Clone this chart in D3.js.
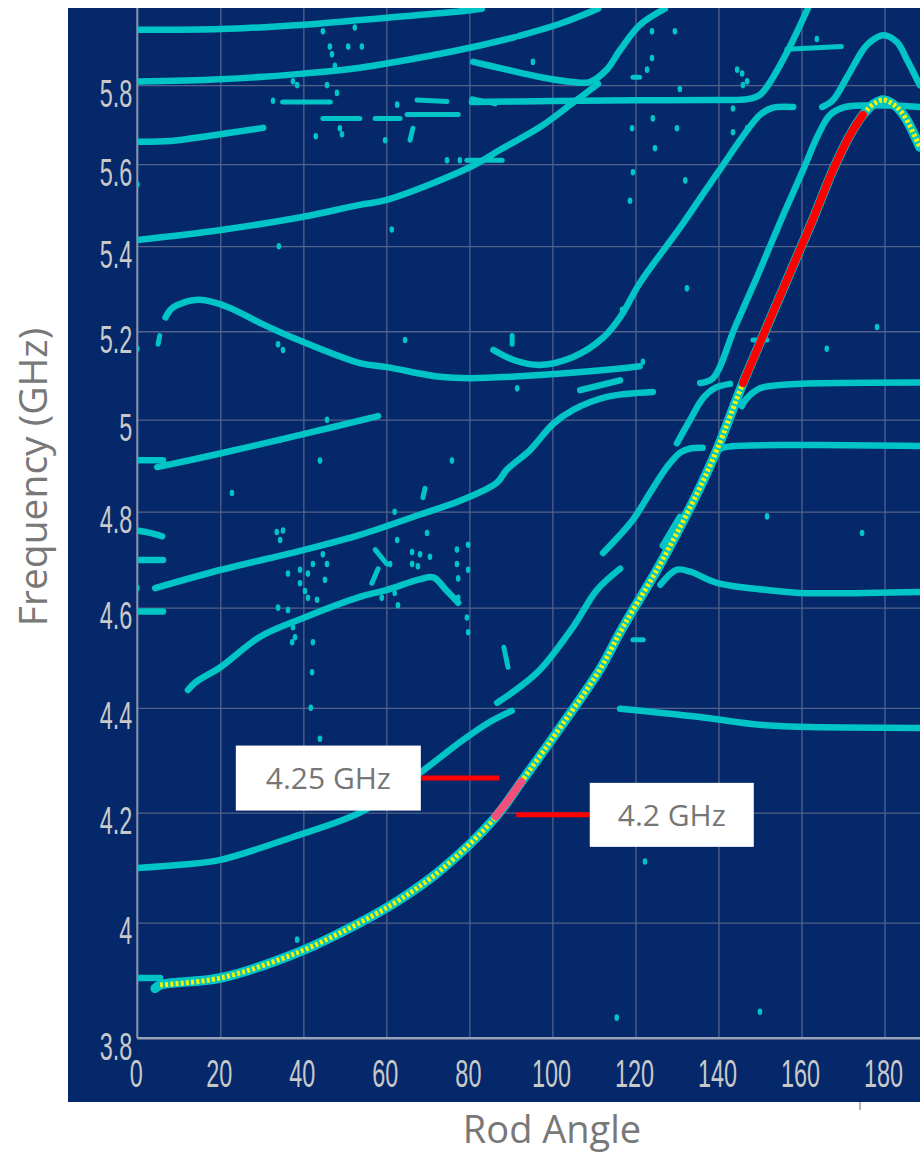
<!DOCTYPE html>
<html>
<head>
<meta charset="utf-8">
<script src="https://cdn.jsdelivr.net/npm/d3@7"></script>
<style>
  body { margin: 0; background: #fff; }
  svg { display: block; }
</style>
</head>
<body>
<div id="chart"></div>
<script>
// ---- data: rod angle (deg) vs frequency (GHz) ----
var xTicks = [0, 20, 40, 60, 80, 100, 120, 140, 160, 180];
var yTicks = [3.8, 4, 4.2, 4.4, 4.6, 4.8, 5, 5.2, 5.4, 5.6, 5.8];

// tracked mode (yellow markers)
var trackedMode = [[4.3,3.885],[5.5,3.891],[20,3.903],[38.5,3.947],[53.6,4.0],[63,4.04],[73.2,4.095],[86.1,4.19],[92.7,4.26],[99.5,4.335],[111.4,4.475],[116.3,4.55],[119.4,4.595],[124.8,4.672],[130,4.755],[134.9,4.84],[139.6,4.933],[145.9,5.082],[151.2,5.2],[156.5,5.32],[162.8,5.466],[167.6,5.586],[171.7,5.673],[174.8,5.724],[177.2,5.75],[179.6,5.762],[182.5,5.748],[185,5.717],[188.5,5.643]];
var redSpan = [[145.9,5.082],[151.2,5.2],[156.5,5.32],[162.8,5.466],[167.6,5.586],[171.7,5.673],[174.8,5.724]];
var pinkSpan = [[86.3,4.193],[89.5,4.225],[92.5,4.258]];

// other modes (cyan)
var topBand = [[0,5.944],[20.2,5.946],[39.2,5.957],[53.6,5.97],[76,5.991],[83,6.0]];
var band58a = [[0,5.809],[20,5.815],[39.2,5.829],[53.6,5.845],[70.5,5.876],[80.9,5.899],[91,5.925]];
var band58b = [[92,5.928],[101.8,5.96],[111,6.0]];
var band567 = [[0,5.656],[8,5.658],[18,5.672],[30.3,5.691]];
var band54 = [[0,5.415],[20.2,5.439],[40,5.471],[53.6,5.5],[60.1,5.512],[80.2,5.593],[87.4,5.636],[97,5.693],[105,5.755],[111,5.803]];
var dip577 = [[80.9,5.86],[89,5.84],[97,5.821],[105,5.808],[109,5.808],[113.1,5.84],[116.3,5.891],[121.1,5.957],[127.1,6.0]];
var shelf576 = [[80.6,5.757],[100,5.759],[120,5.761],[140,5.762],[147,5.764],[150,5.775],[153.2,5.821],[157.2,5.9],[161.5,6.0]];
var arc52 = [[6.8,5.232],[8.2,5.252],[11,5.266],[15,5.273],[21.6,5.257],[29.6,5.219],[37.5,5.185],[53.6,5.127],[60.1,5.118],[72.9,5.096],[80.2,5.093],[97,5.1],[116.3,5.115],[121,5.12]];
var arc51 = [[85.8,5.157],[91,5.133],[97,5.123],[105,5.141],[112.2,5.185],[116.5,5.235],[121.1,5.313],[130.7,5.444],[140.1,5.583],[150,5.724],[153,5.742],[158,5.744]];
var stub508 = [[106.7,5.066],[116.3,5.088]];
var line50 = [[4.8,4.896],[20.2,4.926],[40,4.968],[58,5.008]];
var line47 = [[4.3,4.64],[20.2,4.678],[40,4.719],[53.6,4.751],[68.1,4.794],[78.2,4.825],[86.6,4.862],[89,4.89],[94.6,4.933],[100.2,4.991],[105,5.022],[113.1,5.051],[124.2,5.062]];
var line465 = [[12.2,4.435],[14,4.45],[20.2,4.481],[29.6,4.541],[40,4.579],[53.6,4.622],[60,4.636],[68,4.658],[71.3,4.662],[74.5,4.635],[77.3,4.61]];
var rise44 = [[0,4.098],[10.3,4.104],[20,4.113],[37.5,4.155],[53.6,4.2],[65.7,4.261],[78.5,4.338],[85,4.373],[90.2,4.394]];
var rise46 = [[86.7,4.41],[92,4.44],[97,4.475],[105,4.561],[110.7,4.636],[116.3,4.68]];
var rise48 = [[112.2,4.713],[119.4,4.783],[123.5,4.84],[127.6,4.896],[130.7,4.927],[133,4.936],[136.2,4.938]];
var short47 = [[126.6,4.728],[130.7,4.789]];
var flat494 = [[139.8,4.933],[142,4.94],[160,4.944],[188.5,4.942]];
var flat508 = [[145.6,5.03],[146.7,5.046],[150,5.07],[155.6,5.078],[188.5,5.083]];
var rise50 = [[130,4.948],[133.2,5.0],[136.3,5.048],[139.2,5.071],[142.8,5.08]];
var steep55 = [[135.6,5.082],[138.7,5.093],[144,5.21],[149.3,5.327],[155.5,5.473],[160.4,5.586],[164,5.673],[166.9,5.724],[170.5,5.744],[188.5,5.744]];
var hump593 = [[165,5.744],[167.6,5.762],[171,5.821],[174.8,5.891],[176.5,5.912],[179.6,5.93],[183,5.912],[185.4,5.866],[188.5,5.8]];
var flat466 = [[126,4.647],[130,4.678],[133.2,4.674],[139.6,4.651],[151.7,4.636],[159.6,4.63],[188.5,4.632]];
var flat44 = [[116.3,4.398],[135.5,4.382],[150,4.367],[159.6,4.363],[188.5,4.361]];
var edge39 = [[0,3.903],[5.5,3.903]];
var edge459 = [[0,4.592],[6.2,4.592]];
var edge47 = [[0,4.698],[6.2,4.698]];
var edge476 = [[0,4.76],[3,4.755],[6,4.748]];
var edge491 = [[0,4.911],[6.2,4.911]];

var fragments = [
  [[35,5.757],[46.5,5.757]], [[44.7,5.715],[53.6,5.715]], [[57.3,5.715],[63.3,5.715]],
  [[65,5.725],[77.3,5.725]], [[67.4,5.762],[74.6,5.758]], [[80.6,5.765],[86.2,5.752]],
  [[79.4,5.61],[87.9,5.61]], [[119.4,5.82],[121,5.82]], [[148.3,5.18],[151.7,5.18]],
  [[156.5,5.893],[169.6,5.9]], [[5,5.17],[5.4,5.19]], [[65.7,5.66],[66.4,5.69]],
  [[90.3,5.17],[90.3,5.19]], [[69.3,4.85],[68.8,4.83]], [[57.3,4.72],[60.1,4.69]],
  [[58,4.68],[56.5,4.65]], [[88.3,4.52],[89.3,4.48]], [[119.4,4.535],[121.9,4.535]]
];

var dots = [
  [44.7,5.94],[46.4,5.9],[46.9,5.88],[50.8,5.9],[52.4,5.95],[54.1,5.9],[32.7,5.76],[37.5,5.81],
  [38.5,5.8],[45.7,5.8],[47.6,5.85],[48.1,5.78],[48.8,5.69],[49.3,5.675],[43,5.67],[0,5.55],
  [34.1,5.4],[0,5.16],[33.9,5.17],[35.1,5.157],[62.6,5.75],[59.7,5.66],[95.3,5.86],[74.6,5.61],
  [77.7,5.61],[61.3,5.44],[124,5.94],[129.5,5.94],[124,5.87],[122.8,5.84],[130.7,5.79],[124.2,5.715],
  [119.2,5.69],[130,5.69],[124.7,5.64],[119.4,5.58],[132,5.56],[118.7,5.51],[132.4,5.3],[116.8,5.25],
  [121.8,5.13],[144.5,5.84],[145.7,5.83],[146.9,5.81],[145.9,5.8],[143.5,5.74],[143.5,5.68],[146.9,5.69],
  [163.7,5.92],[178.2,5.21],[166.1,5.16],[64.5,5.18],[91.5,5.07],[75.8,4.91],[22.8,4.84],[45.7,5.0],
  [44,4.91],[34.4,4.955],[0,4.64],[33.6,4.757],[35.1,4.76],[34.4,4.74],[36.3,4.67],[39.2,4.678],
  [41.1,4.67],[42.3,4.69],[44.7,4.71],[45.7,4.69],[45.2,4.657],[39.2,4.65],[40.4,4.634],[41.1,4.62],
  [43.3,4.616],[33.9,4.6],[36.3,4.595],[37.5,4.56],[38,4.54],[37.3,4.53],[42.3,4.53],[42.1,4.47],
  [41.8,4.4],[44,4.34],[62,4.8],[69.8,4.755],[62.6,4.74],[66.2,4.715],[68.1,4.71],[70.5,4.705],
  [66.2,4.69],[67.6,4.685],[60.9,4.69],[58.9,4.62],[62.8,4.605],[62,4.63],[77,4.72],[77,4.69],
  [77.3,4.66],[77.3,4.62],[79.7,4.73],[79.7,4.678],[79.4,4.58],[79.7,4.55],[122.3,4.11],[115.5,3.835],
  [150,3.845],[38.5,3.97],[151.7,4.79],[174.6,4.755]
];

var cyanModes = [topBand, band58a, band58b, band567, band54, dip577, shelf576, arc52, arc51, stub508,
  line50, line47, line465, rise44, rise46, rise48, short47, flat494, flat508, rise50, steep55, hump593,
  flat466, flat44, edge39, edge459, edge47, edge476, edge491];

var callouts = [
  {label: '4.25 GHz', freq: 4.265, from: 68.3, to: 87.2, side: 'left', boxW: 185, boxH: 65},
  {label: '4.2 GHz', freq: 4.196, from: 91.3, to: 109, side: 'right', boxW: 164, boxH: 64}
];

// ---- layout ----
var W = 920, H = 1153;
var x = d3.scaleLinear().domain([0, 180]).range([137.3, 884.5]);
var y = d3.scaleLog().domain([3.8, 6]).range([1038.3, 8.7]);

var svg = d3.select('#chart').append('svg')
  .attr('width', W)
  .attr('height', H);

svg.append('rect')
  .attr('x', 68).attr('y', 8)
  .attr('width', W - 68).attr('height', 1094)
  .attr('fill', '#04286a');

svg.append('clipPath').attr('id', 'plotclip')
  .append('rect')
  .attr('x', x(0)).attr('y', 8)
  .attr('width', W - x(0)).attr('height', y(3.8) - 8);

// grid
var gridV = svg.append('g')
  .attr('transform', 'translate(0,' + y(3.8) + ')')
  .call(d3.axisBottom(x).tickValues(xTicks.slice(1)).tickSize(-(y(3.8) - 8)).tickFormat(''));
var gridH = svg.append('g')
  .attr('transform', 'translate(' + x(0) + ',0)')
  .call(d3.axisLeft(y).tickValues(yTicks.slice(1)).tickSize(-(W - x(0))).tickFormat(''));
[gridV, gridH].forEach(function (g) {
  g.select('.domain').remove();
  g.selectAll('line').attr('stroke', '#53628a').attr('stroke-width', 1.3);
});

// axis lines
svg.append('line')
  .attr('x1', x(0)).attr('x2', x(0)).attr('y1', 8).attr('y2', y(3.8))
  .attr('stroke', '#8f98ad').attr('stroke-width', 2);
svg.append('line')
  .attr('x1', x(0)).attr('x2', W).attr('y1', y(3.8)).attr('y2', y(3.8))
  .attr('stroke', '#9aa3b6').attr('stroke-width', 2.5);

var line = d3.line()
  .x(function (d) { return x(d[0]); })
  .y(function (d) { return y(d[1]); })
  .curve(d3.curveCatmullRom.alpha(0.5));

var plot = svg.append('g').attr('clip-path', 'url(#plotclip)');

plot.selectAll('path.mode')
  .data(cyanModes)
  .enter()
  .append('path')
  .attr('class', 'mode')
  .attr('d', line)
  .attr('fill', 'none')
  .attr('stroke', '#00c4c6')
  .attr('stroke-width', 6.5)
  .attr('stroke-linecap', 'round');

plot.selectAll('path.frag')
  .data(fragments)
  .enter()
  .append('path')
  .attr('class', 'frag')
  .attr('d', line)
  .attr('fill', 'none')
  .attr('stroke', '#00c4c6')
  .attr('stroke-width', 5)
  .attr('stroke-linecap', 'round');

plot.selectAll('ellipse')
  .data(dots)
  .enter()
  .append('ellipse')
  .attr('cx', function (d) { return x(d[0]); })
  .attr('cy', function (d) { return y(d[1]); })
  .attr('rx', 2.3)
  .attr('ry', 3.3)
  .attr('fill', '#00c4c6');

// tracked mode: cyan body + yellow markers
plot.append('path')
  .attr('d', line(trackedMode))
  .attr('fill', 'none')
  .attr('stroke', '#00c4c6')
  .attr('stroke-width', 9.5)
  .attr('stroke-linecap', 'round');
plot.append('path')
  .attr('d', line(trackedMode.slice(1)))
  .attr('fill', 'none')
  .attr('stroke', '#f4f400')
  .attr('stroke-width', 5)
  .attr('stroke-dasharray', '3,2.2');
plot.append('path')
  .attr('d', line(pinkSpan))
  .attr('fill', 'none')
  .attr('stroke', '#f2507a')
  .attr('stroke-width', 8)
  .attr('stroke-linecap', 'round');
plot.append('path')
  .attr('d', line(redSpan))
  .attr('fill', 'none')
  .attr('stroke', '#ff0000')
  .attr('stroke-width', 8)
  .attr('stroke-linecap', 'round');

// tick labels
var tickFont = '"Liberation Sans", "DejaVu Sans", sans-serif';
var yAxis = svg.append('g')
  .attr('transform', 'translate(' + x(0) + ',0)')
  .call(d3.axisLeft(y).tickValues(yTicks).tickSize(0).tickFormat(d3.format('~g')));
var xAxis = svg.append('g')
  .attr('transform', 'translate(0,' + y(3.8) + ')')
  .call(d3.axisBottom(x).tickValues(xTicks).tickSize(0).tickFormat(d3.format('d')));
[yAxis, xAxis].forEach(function (g) {
  g.select('.domain').remove();
  g.attr('font-family', tickFont).attr('font-size', 39);
  g.selectAll('text').attr('fill', '#c9c9c9').attr('x', null).attr('y', null).attr('dy', null);
});
yAxis.selectAll('text')
  .attr('text-anchor', 'end')
  .attr('transform', 'translate(-5,21) scale(0.6,1)');
xAxis.selectAll('text')
  .attr('text-anchor', 'middle')
  .attr('transform', 'translate(-1.5,49) scale(0.6,1)');

// axis titles
var titleFont = '"Open Sans", "Noto Sans", sans-serif';
svg.append('text')
  .attr('transform', 'translate(47,477) rotate(-90)')
  .attr('text-anchor', 'middle')
  .attr('font-family', titleFont)
  .attr('font-size', 39)
  .attr('fill', '#787878')
  .text('Frequency (GHz)');
svg.append('text')
  .attr('x', 552)
  .attr('y', 1143)
  .attr('text-anchor', 'middle')
  .attr('font-family', titleFont)
  .attr('font-size', 38)
  .attr('fill', '#787878')
  .text('Rod Angle');

// small mark below the frame
svg.append('line')
  .attr('x1', x(174.1)).attr('x2', x(174.1))
  .attr('y1', 1102).attr('y2', 1110)
  .attr('stroke', '#9a9a9a').attr('stroke-width', 1.5);

// callouts
callouts.forEach(function (c) {
  var ly = y(c.freq);
  svg.append('line')
    .attr('x1', x(c.from)).attr('x2', x(c.to))
    .attr('y1', ly).attr('y2', ly)
    .attr('stroke', '#ff0000')
    .attr('stroke-width', 5);
  var bx = c.side === 'left' ? x(c.from) - c.boxW : x(c.to);
  svg.append('rect')
    .attr('x', bx).attr('y', ly - c.boxH / 2)
    .attr('width', c.boxW).attr('height', c.boxH)
    .attr('fill', '#ffffff');
  svg.append('text')
    .attr('x', bx + c.boxW / 2)
    .attr('y', ly + 11)
    .attr('text-anchor', 'middle')
    .attr('font-family', titleFont)
    .attr('font-size', 30)
    .attr('fill', '#767676')
    .text(c.label);
});
</script>
</body>
</html>
